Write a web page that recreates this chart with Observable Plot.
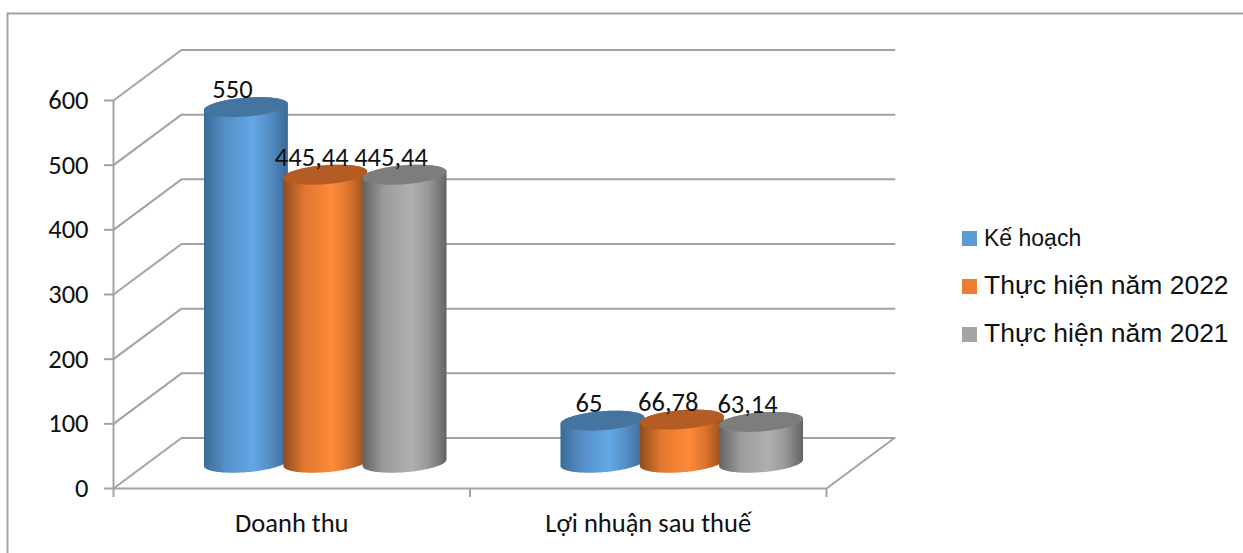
<!DOCTYPE html>
<html lang="vi">
<head>
<meta charset="utf-8">
<script src="https://cdn.jsdelivr.net/npm/d3@7"></script>
<script src="https://cdn.jsdelivr.net/npm/@observablehq/plot@0.6"></script>
<style>
  html, body { margin: 0; padding: 0; background: #fff; }
  #chart { position: relative; width: 1243px; height: 553px; overflow: hidden; }
  #chart svg { position: absolute; left: 0; top: 0; }
  .legend-swatch { position: absolute; left: 962px; width: 15px; height: 15px; }
  .legend-label { position: absolute; left: 984px; font-family: "Liberation Sans", Arial, sans-serif; color: #111; white-space: nowrap; line-height: 1; }
</style>
</head>
<body>
<div id="chart"></div>
<script>
// Chart content
const categories = ["Doanh thu", "Lợi nhuận sau thuế"];
const seriesNames = ["Kế hoạch", "Thực hiện năm 2022", "Thực hiện năm 2021"];
const seriesValues = [
  [550, 65],
  [445.44, 66.78],
  [445.44, 63.14]
];
const valueLabels = [
  ["550", "65"],
  ["445,44", "66,78"],
  ["445,44", "63,14"]
];
const yTicks = [0, 100, 200, 300, 400, 500, 600];

// Colours per series: legend swatch, cap, and the body's horizontal shading
const swatchColors = ["#5b9bd5", "#ed7d31", "#a5a5a5"];
const capColors = ["#4475a1", "#b45c24", "#7d7d7d"];
const bodyStops = [
  ["#3b6a96", "#558fc6", "#62a7e6", "#558ec4", "#3b6a96"],
  ["#8f4c1c", "#e07730", "#ff8a38", "#dd742d", "#8f4c1c"],
  ["#636363", "#9b9b9b", "#b0b0b0", "#999999", "#636363"]
];
const stopOffsets = ["0%", "25%", "58%", "78%", "100%"];
const gridColor = "#a3a3a3";

// Oblique projection, expressed in data units so every shape goes through the scales.
// One x unit is one category; the wall recedes by depthX / depthY.
const pxPerX = (826 - 113) / 2;
const pxPerY = (488 - 100) / 600;
const depthX = 68 / pxPerX;
const depthY = 50.5 / pxPerY;
const barStep = 79.3 / pxPerX;
const halfFront = 39.8 / pxPerX;     // half width of the cylinder's front edge
const halfDepthX = 13.3 / pxPerX;    // half of the cylinder's receding diameter
const halfDepthY = 10 / pxPerY;

const silhouette = Math.hypot(halfFront, halfDepthX);
const phase = Math.atan2(halfDepthX, halfFront);

// Walks the cylinder's outline from right to left along both arcs of its tilted ellipse
function ellipseArcs(cx) {
  return d3.range(0, 65).map(k => {
    const u = Math.PI * k / 64;
    return {
      x: cx + silhouette * Math.cos(u),
      upper: halfDepthY * Math.sin(phase + u),
      lower: halfDepthY * Math.sin(phase - u)
    };
  });
}

const cylinders = seriesValues.flatMap((values, s) => values.map((value, c) => ({
  series: s,
  value,
  label: valueLabels[s][c],
  cx: c + 0.5 + depthX / 2 + (s - 1) * barStep,
  base: depthY / 2
})));

const bodyPoints = cyl => ellipseArcs(cyl.cx).map(p => ({
  x: p.x,
  y1: cyl.base + p.lower,
  y2: cyl.base + cyl.value + p.upper
}));
const capPoints = cyl => ellipseArcs(cyl.cx).map(p => ({
  x: p.x,
  y1: cyl.base + cyl.value + p.lower,
  y2: cyl.base + cyl.value + p.upper
}));

// Walls and floor: each tick runs back along the side wall, then across the back wall
const wallLines = yTicks.map(v => [
  {x: 0, y: v},
  {x: depthX, y: v + depthY},
  {x: 2 + depthX, y: v + depthY}
]);
const floorEdge = [
  {x: 0, y: 0},
  {x: 2, y: 0},
  {x: 2 + depthX, y: depthY}
];

// Horizontal shading of each cylinder body
const gradientDefs = () => {
  const defs = d3.create("svg:defs");
  bodyStops.forEach((stops, s) => {
    const g = defs.append("linearGradient")
      .attr("id", `body-${s}`)
      .attr("x1", "0").attr("x2", "1").attr("y1", "0").attr("y2", "0");
    stops.forEach((color, i) => g.append("stop").attr("offset", stopOffsets[i]).attr("stop-color", color));
  });
  return defs.node();
};

const chartFont = "Carlito, Lato, 'Noto Sans', sans-serif";

const plot = Plot.plot({
  width: 1243,
  height: 553,
  marginLeft: 113,
  marginRight: 417,
  marginTop: 100,
  marginBottom: 65,
  style: {background: "transparent", fontFamily: chartFont, color: "#111"},
  x: {domain: [0, 2], axis: null},
  y: {domain: [0, 600], axis: null},
  marks: [
    gradientDefs,
    ...wallLines.map(line => Plot.line(line, {x: "x", y: "y", stroke: gridColor, strokeWidth: 2})),
    Plot.line(floorEdge, {x: "x", y: "y", stroke: gridColor, strokeWidth: 2}),
    Plot.ruleX([0], {y1: 0, y2: 600, stroke: gridColor, strokeWidth: 2}),
    Plot.axisY({
      ticks: yTicks,
      tickSize: 9,
      tickPadding: 16,
      stroke: gridColor,
      strokeWidth: 2,
      fontSize: 26.5,
      fill: "#111",
      tickFormat: d => String(d),
      label: null
    }),
    Plot.axisX({ticks: [0, 1, 2], tickSize: 9, stroke: gridColor, strokeWidth: 2, tickFormat: () => "", label: null}),
    Plot.axisX({
      ticks: [0.5, 1.5],
      tickSize: 0,
      tickPadding: 25,
      fontSize: 26.5,
      fill: "#111",
      tickFormat: d => categories[Math.floor(d)],
      label: null
    }),
    ...cylinders.flatMap(cyl => [
      Plot.areaY(bodyPoints(cyl), {x: "x", y1: "y1", y2: "y2", fill: `url(#body-${cyl.series})`}),
      Plot.areaY(capPoints(cyl), {x: "x", y1: "y1", y2: "y2", fill: capColors[cyl.series]})
    ]),
    Plot.text(cylinders, {
      x: "cx",
      y: d => d.base + d.value,
      text: "label",
      dx: -14,
      dy: -18,
      fontSize: 26.5,
      fill: "#111"
    }),
    Plot.frame({insetLeft: -106, insetTop: -87, insetRight: -425, insetBottom: -75, stroke: gridColor, strokeWidth: 2})
  ]
});

const chart = document.getElementById("chart");
chart.appendChild(plot);

// Legend to the right of the plot
const legendTops = [231, 279, 327];
const labelTops = [227, 272, 320];
const labelSizes = [23, 26.5, 26.5];
seriesNames.forEach((name, i) => {
  const swatch = document.createElement("div");
  swatch.className = "legend-swatch";
  swatch.style.top = legendTops[i] + "px";
  swatch.style.background = swatchColors[i];
  chart.appendChild(swatch);
  const label = document.createElement("div");
  label.className = "legend-label";
  label.style.top = labelTops[i] + "px";
  label.style.fontSize = labelSizes[i] + "px";
  label.textContent = name;
  chart.appendChild(label);
});
</script>
</body>
</html>
